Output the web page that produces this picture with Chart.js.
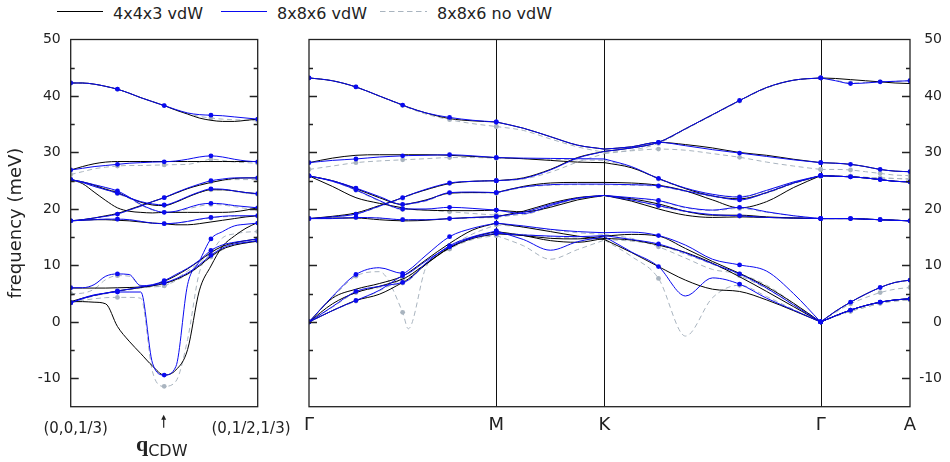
<!DOCTYPE html>
<html>
<head>
<meta charset="utf-8">
<title>Phonon dispersion</title>
<script src="https://cdn.jsdelivr.net/npm/chart.js@4.4.1/dist/chart.umd.min.js"></script>
<style>
  html, body { margin: 0; padding: 0; background: #fff; }
  #wrap { position: relative; width: 950px; height: 462px; overflow: hidden; }
  #left { position: absolute; left: 0; top: 0; }
  #right { position: absolute; left: 300px; top: 0; }
  .sw { position: absolute; top: 10px; }
  .lbl { position: absolute; top: 4px; font: 16px/20px "DejaVu Sans", sans-serif; color: #222; white-space: nowrap; }
</style>
</head>
<body>
<div id="wrap">
  <svg class="sw" style="left:57px" width="46" height="3"><line x1="0" y1="1.5" x2="46" y2="1.5" stroke="#000" stroke-width="1"/></svg>
  <span class="lbl" style="left:113px">4x4x3 vdW</span>
  <svg class="sw" style="left:221px" width="46" height="3"><line x1="0" y1="1.5" x2="46" y2="1.5" stroke="#0a0af0" stroke-width="1"/></svg>
  <span class="lbl" style="left:277px">8x8x6 vdW</span>
  <svg class="sw" style="left:380px" width="47" height="3"><line x1="0" y1="1.5" x2="47" y2="1.5" stroke="#a9b4bf" stroke-width="1" stroke-dasharray="5.5 3.5"/></svg>
  <span class="lbl" style="left:437px">8x8x6 no vdW</span>
  <canvas id="left" width="300" height="462"></canvas>
  <canvas id="right" width="650" height="462"></canvas>
</div>
<script>
'use strict';

// path coordinate along (0,0,1/3) -> (0,1/2,1/3)
const qLeft = [0, 0.0625, 0.125, 0.1875, 0.25, 0.3125, 0.375, 0.4375, 0.5,
  0.5625, 0.625, 0.6875, 0.75, 0.8125, 0.875, 0.9375, 1];
// path length along G-M-K-G-A (|K-G| = 1)
const qRight = [0, 0.108, 0.217, 0.325, 0.433, 0.459, 0.541, 0.650, 0.758, 0.866,
  0.991, 1.116, 1.241, 1.366,
  1.491, 1.616, 1.741, 1.866, 1.991, 2.116, 2.241, 2.366,
  2.435, 2.504, 2.573, 2.641, 2.710, 2.779];

// sample indices that are DFPT q-points (drawn with dots)
const leftGrid = [0, 4, 8, 12, 16];
const rightGrid = [0, 2, 4, 7, 9, 15, 18, 21, 23, 25, 27];
const leftSegments = [[0, 16]];
const rightSegments = [[0, 9], [9, 13], [13, 21], [21, 27]];

const symPoints = [0, 0.866, 1.366, 2.366, 2.779];
const symLabels = ['Γ', 'M', 'K', 'Γ', 'A'];
const leftLabels = ['(0,0,1/3)', '(0,1/2,1/3)'];
const qCdw = 0.5;
const yTicks = [-10, 0, 10, 20, 30, 40, 50];

// frequencies in meV, one array per branch
const left443 = [
  [42.3, 42.3, 42.1, 41.7, 41.2, 40.5, 39.7, 39.0, 38.3, 37.5, 36.8, 36.1, 35.7, 35.5, 35.5, 35.7, 35.9],
  [26.9, 27.5, 28.0, 28.3, 28.4, 28.4, 28.4, 28.4, 28.4, 28.4, 28.4, 28.4, 28.4, 28.4, 28.4, 28.4, 28.4],
  [25.2, 24.8, 24.2, 23.5, 22.9, 22.0, 21.2, 20.7, 20.6, 21.2, 22.1, 22.9, 23.4, 23.4, 23.2, 22.9, 22.7],
  [25.2, 24.5, 23.0, 21.5, 20.2, 19.6, 19.4, 19.3, 19.4, 19.4, 19.4, 19.4, 19.4, 19.4, 19.5, 19.8, 20.2],
  [17.9, 18.1, 18.4, 18.8, 19.2, 19.9, 20.6, 21.3, 22.0, 22.8, 23.6, 24.2, 24.7, 25.1, 25.4, 25.5, 25.5],
  [17.9, 18.0, 18.1, 18.1, 18.0, 17.9, 17.7, 17.5, 17.4, 17.2, 17.2, 17.4, 17.7, 18.0, 18.3, 18.6, 18.8],
  [6.0, 6.0, 6.0, 6.0, 6.05, 6.1, 6.2, 6.5, 7.2, 8.2, 9.4, 10.8, 12.3, 13.4, 14.0, 14.4, 14.7],
  [3.6, 4.2, 4.7, 5.1, 5.5, 5.8, 6.1, 6.4, 6.8, 7.5, 8.5, 9.9, 11.6, 12.9, 13.6, 14.0, 14.3],
  [3.6, 3.6, 3.5, 3.2, -0.8, -3.4, -5.6, -7.8, -9.4, -8.5, -4.9, 5.5, 9.9, 13.4, 15.2, 16.6, 17.6]
];
const left886 = [
  [42.3, 42.3, 42.1, 41.7, 41.2, 40.5, 39.7, 39.0, 38.3, 37.6, 37.0, 36.7, 36.6, 36.5, 36.3, 36.1, 35.9],
  [26.9, 27.2, 27.5, 27.7, 27.9, 28.1, 28.2, 28.3, 28.35, 28.5, 28.8, 29.2, 29.4, 29.2, 28.8, 28.5, 28.35],
  [25.2, 24.7, 24.0, 23.4, 22.8, 22.0, 21.3, 20.9, 20.7, 21.3, 22.2, 23.0, 23.55, 23.5, 23.2, 22.9, 22.7],
  [25.2, 24.8, 24.3, 23.8, 23.2, 22.1, 20.8, 19.9, 19.4, 19.6, 20.2, 20.8, 21.0, 20.9, 20.6, 20.4, 20.2],
  [17.9, 18.1, 18.4, 18.7, 19.1, 19.8, 20.5, 21.3, 22.0, 22.9, 23.7, 24.4, 25.0, 25.3, 25.5, 25.5, 25.5],
  [17.9, 18.0, 18.1, 18.2, 18.2, 18.1, 17.8, 17.5, 17.4, 17.5, 17.8, 18.2, 18.5, 18.7, 18.8, 18.8, 18.8],
  [6.06, 6.06, 6.6, 8.1, 8.5, 8.4, 6.4, 6.6, 7.3, 8.4, 9.5, 10.9, 12.65, 13.65, 14.1, 14.4, 14.7],
  [3.4, 4.1, 4.7, 5.1, 5.5, 5.8, 6.2, 6.5, 6.9, 7.65, 8.65, 10.1, 11.8, 13.1, 13.8, 14.1, 14.4],
  [3.4, 4.2, 4.8, 5.1, 5.3, 5.3, 5.3, -7.3, -9.4, -7.9, 6.6, 10.7, 14.7, 16.0, 17.0, 17.3, 17.5]
];
const left886nv = [
  [42.3, 42.3, 42.1, 41.7, 41.2, 40.5, 39.7, 39.0, 38.3, 37.5, 36.9, 36.4, 36.1, 35.9, 35.8, 35.7, 35.6],
  [26.1, 26.6, 27.1, 27.4, 27.6, 27.7, 27.7, 27.75, 27.8, 27.85, 27.9, 28.3, 28.8, 28.6, 28.3, 28.2, 28.1],
  [25.2, 24.7, 24.0, 23.4, 22.7, 21.9, 21.2, 20.8, 20.6, 21.2, 22.1, 22.9, 23.4, 23.4, 23.1, 22.8, 22.6],
  [25.2, 24.8, 24.3, 23.7, 23.0, 21.9, 20.7, 19.8, 19.4, 19.5, 20.0, 20.5, 20.8, 20.7, 20.4, 20.1, 19.9],
  [17.9, 18.1, 18.4, 18.7, 19.1, 19.8, 20.5, 21.3, 22.0, 22.8, 23.6, 24.3, 24.8, 25.1, 25.2, 25.2, 25.2],
  [17.9, 18.0, 18.1, 18.2, 18.2, 18.1, 17.8, 17.5, 17.4, 17.5, 17.8, 18.1, 18.4, 18.6, 18.7, 18.7, 18.7],
  [5.0, 5.1, 5.8, 7.5, 8.2, 8.1, 6.5, 6.3, 6.4, 7.6, 9.0, 10.5, 12.2, 13.5, 14.0, 14.3, 14.5],
  [3.4, 4.0, 4.6, 5.0, 5.4, 5.7, 6.0, 6.2, 6.4, 7.3, 8.4, 9.8, 11.5, 12.8, 13.6, 14.0, 14.3],
  [3.4, 3.8, 4.1, 4.3, 4.35, 4.35, 4.2, -8.8, -11.4, -10.5, -3.1, 8.7, 12.2, 14.9, 15.6, 15.9, 16.0]
];

const right443 = [
  [43.2, 42.7, 41.6, 40.0, 38.4, 38.0, 37.0, 36.0, 35.6, 35.4, 34.3, 32.8, 31.3, 30.6,
    31.0, 31.8, 31.4, 30.8, 30.0, 29.5, 28.8, 28.2, 28.1, 27.9, 27.5, 27.0, 26.7, 26.6],
  [28.2, 29.0, 29.5, 29.6, 29.6, 29.6, 29.6, 29.5, 29.3, 29.1, 28.9, 28.6, 28.3, 28.2,
    27.3, 25.4, 23.6, 22.3, 21.8, 22.9, 24.6, 25.9, 25.8, 25.7, 25.5, 25.2, 24.9, 24.8],
  [18.3, 18.7, 19.3, 20.6, 22.0, 22.4, 23.4, 24.5, 24.9, 25.0, 25.5, 27.0, 29.1, 30.2,
    30.8, 31.8, 34.2, 36.7, 39.2, 41.5, 42.8, 43.2, 43.1, 42.9, 42.7, 42.5, 42.3, 42.2],
  [25.85, 25.0, 23.6, 22.0, 20.8, 20.9, 21.6, 22.8, 22.9, 22.9, 24.0, 24.6, 24.7, 24.7,
    24.6, 24.2, 23.2, 21.6, 20.2, 21.3, 23.8, 25.9, 25.8, 25.7, 25.5, 25.2, 24.9, 24.8],
  [25.85, 24.0, 22.0, 21.0, 20.2, 20.0, 19.8, 19.7, 19.7, 19.8, 19.5, 20.3, 21.6, 22.4,
    21.8, 20.9, 19.6, 18.9, 18.9, 18.6, 18.4, 18.3, 18.3, 18.3, 18.2, 18.1, 18.0, 17.9],
  [18.3, 18.4, 18.4, 18.1, 17.9, 17.9, 18.0, 18.3, 18.5, 18.65, 19.6, 21.0, 22.0, 22.4,
    21.4, 20.0, 18.9, 18.5, 18.6, 18.5, 18.4, 18.3, 18.3, 18.3, 18.2, 18.1, 18.0, 17.9],
  [0, 4.2, 5.8, 6.8, 8.1, 8.7, 11.0, 13.9, 16.3, 17.5, 16.8, 16.0, 15.2, 14.6,
    12.3, 9.8, 7.4, 5.8, 5.4, 3.9, 2.0, 0, 1.9, 3.5, 4.9, 6.1, 7.0, 7.4],
  [0, 3.2, 5.2, 6.3, 7.6, 8.1, 10.3, 13.2, 15.0, 16.0, 15.3, 14.4, 14.1, 14.8,
    14.5, 13.6, 12.3, 10.4, 8.0, 5.4, 2.7, 0, 1.1, 2.1, 2.9, 3.5, 3.9, 4.1],
  [0, 2.0, 3.8, 4.9, 7.0, 7.6, 10.2, 13.1, 14.8, 15.6, 15.3, 14.8, 14.7, 15.2,
    15.5, 15.2, 13.0, 10.7, 8.6, 6.25, 3.3, 0, 1.1, 2.1, 2.9, 3.5, 3.9, 4.1]
];
const right886 = [
  [43.2, 42.7, 41.6, 40.0, 38.4, 38.0, 37.0, 36.2, 35.7, 35.4, 34.3, 32.8, 31.3, 30.6,
    31.0, 31.8, 31.2, 30.5, 29.9, 29.3, 28.7, 28.2, 28.1, 27.9, 27.5, 27.0, 26.7, 26.6],
  [28.2, 28.6, 28.85, 29.2, 29.4, 29.45, 29.5, 29.6, 29.4, 29.1, 29.0, 28.95, 28.9, 28.85,
    27.5, 25.4, 23.7, 22.6, 22.1, 23.3, 24.8, 25.9, 25.8, 25.7, 25.5, 25.2, 24.9, 24.8],
  [18.3, 18.6, 19.1, 20.5, 22.0, 22.4, 23.5, 24.6, 24.9, 25.0, 25.4, 26.9, 29.0, 30.2,
    30.8, 31.8, 34.2, 36.7, 39.2, 41.5, 42.8, 43.2, 42.7, 42.2, 42.3, 42.5, 42.6, 42.7],
  [25.85, 25.0, 23.7, 22.2, 20.8, 20.9, 21.5, 22.9, 23.0, 22.9, 23.9, 24.3, 24.4, 24.4,
    24.3, 24.1, 23.2, 22.3, 21.6, 22.9, 24.6, 25.9, 25.8, 25.7, 25.5, 25.2, 24.9, 24.8],
  [25.85, 24.9, 23.4, 21.5, 20.0, 20.0, 20.0, 20.3, 20.1, 19.8, 19.2, 20.6, 21.9, 22.4,
    22.0, 21.5, 20.3, 19.8, 20.3, 19.5, 18.8, 18.3, 18.3, 18.3, 18.2, 18.1, 18.0, 17.9],
  [18.3, 18.3, 18.5, 18.4, 18.1, 18.1, 18.1, 18.3, 18.5, 18.65, 19.4, 20.8, 21.9, 22.4,
    21.6, 20.6, 19.6, 19.0, 18.8, 18.5, 18.4, 18.3, 18.3, 18.3, 18.2, 18.1, 18.0, 17.9],
  [0, 4.5, 8.4, 9.6, 8.6, 9.1, 11.8, 15.1, 16.6, 17.5, 17.0, 16.4, 16.0, 15.8,
    15.9, 15.3, 13.6, 11.1, 10.1, 9.0, 5.0, 0, 1.9, 3.5, 4.9, 6.1, 7.0, 7.4],
  [0, 2.7, 5.4, 6.3, 7.0, 7.4, 10.4, 13.5, 15.1, 16.1, 14.6, 12.7, 14.2, 15.1,
    12.4, 9.8, 4.6, 7.8, 6.7, 4.2, 2.1, 0, 1.1, 2.1, 2.9, 3.5, 3.9, 4.1],
  [0, 2.0, 3.8, 5.6, 8.2, 8.6, 10.8, 13.3, 14.9, 15.7, 15.4, 15.2, 15.1, 15.3,
    14.6, 13.8, 12.2, 10.3, 8.5, 6.0, 3.0, 0, 1.1, 2.1, 2.9, 3.5, 3.9, 4.1]
];
const right886nv = [
  [43.2, 42.7, 41.6, 40.0, 38.3, 37.9, 36.8, 35.8, 35.1, 34.6, 33.9, 32.4, 31.0, 30.0,
    30.3, 30.6, 30.4, 29.8, 29.15, 28.3, 27.6, 27.0, 27.0, 26.9, 26.6, 26.3, 26.0, 25.9],
  [27.0, 27.6, 28.2, 28.5, 28.7, 28.75, 28.9, 29.1, 29.1, 29.0, 28.9, 28.8, 28.7, 28.6,
    27.4, 25.3, 23.6, 22.5, 22.2, 23.2, 24.7, 25.8, 25.8, 25.8, 25.6, 25.5, 25.4, 25.3],
  [18.3, 18.6, 19.1, 20.4, 21.9, 22.3, 23.4, 24.5, 24.9, 25.0, 25.3, 26.5, 28.3, 29.8,
    30.4, 31.6, 34.1, 36.6, 39.1, 41.4, 42.8, 43.2, 42.8, 42.3, 42.4, 42.5, 42.6, 42.7],
  [25.85, 25.0, 23.6, 22.1, 20.7, 20.8, 21.4, 22.8, 22.9, 22.8, 23.8, 24.2, 24.3, 24.3,
    24.2, 24.0, 23.1, 22.2, 21.7, 22.8, 24.5, 25.8, 25.8, 25.8, 25.6, 25.5, 25.4, 25.3],
  [25.85, 24.9, 23.3, 21.4, 19.9, 19.9, 19.8, 19.5, 19.2, 18.9, 19.0, 20.4, 21.8, 22.3,
    21.9, 21.4, 20.2, 19.7, 20.1, 19.4, 18.8, 18.3, 18.3, 18.3, 18.2, 18.1, 18.0, 17.9],
  [18.3, 18.3, 18.5, 18.4, 18.1, 18.1, 18.1, 18.3, 18.4, 18.5, 19.2, 20.5, 21.8, 22.3,
    21.5, 20.5, 19.5, 18.9, 18.7, 18.5, 18.4, 18.3, 18.3, 18.3, 18.2, 18.1, 18.0, 17.9],
  [0, 4.3, 8.1, 8.9, 1.7, -1.2, 9.7, 12.9, 14.6, 15.3, 13.5, 11.1, 12.8, 14.5,
    11.6, 7.7, -2.5, 4.3, 6.5, 4.5, 2.2, 0, 1.7, 3.2, 4.3, 5.2, 5.8, 6.1],
  [0, 2.6, 5.2, 6.1, 6.9, 7.3, 10.2, 13.3, 15.6, 17.2, 16.8, 16.3, 15.8, 15.5,
    14.8, 13.3, 11.3, 9.3, 8.5, 6.5, 3.3, 0, 1.0, 1.9, 2.6, 3.3, 3.7, 3.9],
  [0, 2.0, 3.7, 5.5, 7.6, 8.0, 10.4, 13.0, 15.0, 15.9, 15.5, 15.1, 14.8, 14.6,
    14.3, 13.6, 12.0, 10.2, 8.2, 5.9, 3.0, 0, 1.0, 1.9, 2.6, 3.3, 3.7, 3.9]
];

// first entry is drawn on top
const series = [
  { color: '#0a0af0', dash: [], dots: true, left: left886, right: right886 },
  { color: '#000000', dash: [], dots: false, left: left443, right: right443 },
  { color: '#a9b4bf', dash: [5, 3.5], dots: true, left: left886nv, right: right886nv }
];

Chart.defaults.font.family = '"DejaVu Sans", sans-serif';
Chart.defaults.color = '#222';

function buildDatasets(q, grid, segments, key) {
  const sets = [];
  series.forEach(s => {
    s[key].forEach(branch => {
      segments.forEach(([a, b]) => {
        const pts = [];
        for (let i = a; i <= b; i++) pts.push({ x: q[i], y: branch[i], i: i });
        sets.push({
          data: pts,
          borderColor: s.color,
          backgroundColor: s.color,
          borderWidth: 1,
          borderDash: s.dash,
          cubicInterpolationMode: 'monotone',
          pointRadius: ctx => (s.dots && ctx.raw && grid.includes(ctx.raw.i)) ? 2.4 : 0,
          pointBorderWidth: 0
        });
      });
    });
  });
  return sets;
}

// frame, inner ticks, high-symmetry lines and path labels
const panelPlugin = {
  id: 'panel',
  beforeDatasetsDraw(chart, args, opts) {
    const { ctx, chartArea: a, scales: { x } } = chart;
    ctx.save();
    ctx.strokeStyle = '#111';
    ctx.lineWidth = 1;
    (opts.vlines || []).forEach(v => {
      const px = Math.round(x.getPixelForValue(v)) + 0.5;
      ctx.beginPath();
      ctx.moveTo(px, a.top);
      ctx.lineTo(px, a.bottom);
      ctx.stroke();
    });
    ctx.restore();
  },
  afterDatasetsDraw(chart, args, opts) {
    const { ctx, chartArea: a, scales: { x, y } } = chart;
    ctx.save();
    ctx.strokeStyle = '#222';
    ctx.lineWidth = 1.3;
    ctx.beginPath();
    for (let v = -10; v < 50; v += 5) {
      const py = Math.round(y.getPixelForValue(v)) + 0.5;
      const len = v % 10 === 0 ? 8 : 4;
      ctx.moveTo(a.left, py); ctx.lineTo(a.left + len, py);
      ctx.moveTo(a.right - len, py); ctx.lineTo(a.right, py);
    }
    ctx.stroke();
    ctx.strokeRect(a.left, a.top, a.right - a.left, a.bottom - a.top);

    ctx.fillStyle = '#222';
    ctx.textAlign = 'center';
    ctx.textBaseline = 'middle';
    (opts.labels || []).forEach(l => {
      ctx.font = l.font;
      ctx.fillText(l.text, x.getPixelForValue(l.at) + (l.dx || 0), a.bottom + l.dy);
    });

    if (opts.marker !== undefined) {
      const px = x.getPixelForValue(opts.marker) - 0.5;
      ctx.lineWidth = 1.2;
      ctx.beginPath();
      ctx.moveTo(px, a.bottom + 21);
      ctx.lineTo(px, a.bottom + 11);
      ctx.stroke();
      ctx.beginPath();
      ctx.moveTo(px, a.bottom + 8);
      ctx.lineTo(px - 2.5, a.bottom + 13);
      ctx.lineTo(px + 2.5, a.bottom + 13);
      ctx.closePath();
      ctx.fill();
      ctx.textBaseline = 'alphabetic';
      ctx.textAlign = 'right';
      ctx.font = 'bold 22px "Liberation Serif", serif';
      ctx.fillText('q', px - 15.5, a.bottom + 44);
      ctx.textAlign = 'left';
      ctx.font = '16px "DejaVu Sans", sans-serif';
      ctx.fillText('CDW', px - 15.5, a.bottom + 49.5);
    }
    ctx.restore();
  }
};

function makeChart(id, cfg) {
  return new Chart(document.getElementById(id), {
    type: 'line',
    data: { datasets: cfg.datasets },
    options: {
      responsive: false,
      animation: false,
      events: [],
      layout: { padding: cfg.padding },
      plugins: {
        legend: { display: false },
        tooltip: { enabled: false },
        panel: cfg.panel
      },
      scales: {
        x: {
          type: 'linear', min: cfg.xMax ? 0 : 0, max: cfg.xMax,
          grid: { display: false }, border: { display: false },
          ticks: { display: false },
          afterFit: s => { s.height = 55.3; }
        },
        y: {
          type: 'linear', position: cfg.yPos, min: -15, max: 50,
          grid: { display: false, drawTicks: false }, border: { display: false },
          afterBuildTicks: s => { s.ticks = yTicks.map(v => ({ value: v })); },
          ticks: { padding: 10, crossAlign: cfg.cross, font: { size: 14 }, color: '#222' },
          title: cfg.yTitle,
          afterFit: s => { s.width = cfg.yWidth; }
        }
      }
    },
    plugins: [panelPlugin]
  });
}

makeChart('left', {
  datasets: buildDatasets(qLeft, leftGrid, leftSegments, 'left'),
  padding: { top: 39.5, right: 42.3, bottom: 0, left: 0 },
  xMax: 1,
  yPos: 'left',
  cross: 'near',
  yWidth: 70.7,
  yTitle: { display: true, text: 'frequency (meV)', font: { size: 18 }, color: '#222', padding: { top: 6, bottom: 0 } },
  panel: {
    labels: [
      { at: 0, dx: 5, dy: 22.3, text: leftLabels[0], font: '15px "DejaVu Sans", sans-serif' },
      { at: 1, dx: -6.7, dy: 22.3, text: leftLabels[1], font: '15px "DejaVu Sans", sans-serif' }
    ],
    marker: qCdw
  }
});

makeChart('right', {
  datasets: buildDatasets(qRight, rightGrid, rightSegments, 'right'),
  padding: { top: 39.5, right: 8, bottom: 0, left: 9 },
  xMax: symPoints[symPoints.length - 1],
  yPos: 'right',
  cross: 'far',
  yWidth: 32,
  yTitle: { display: false },
  panel: {
    vlines: symPoints.slice(1, -1),
    labels: symPoints.map((v, k) => ({ at: v, dy: 18.5, text: symLabels[k], font: '18px "DejaVu Sans", sans-serif' }))
  }
});
</script>
</body>
</html>
